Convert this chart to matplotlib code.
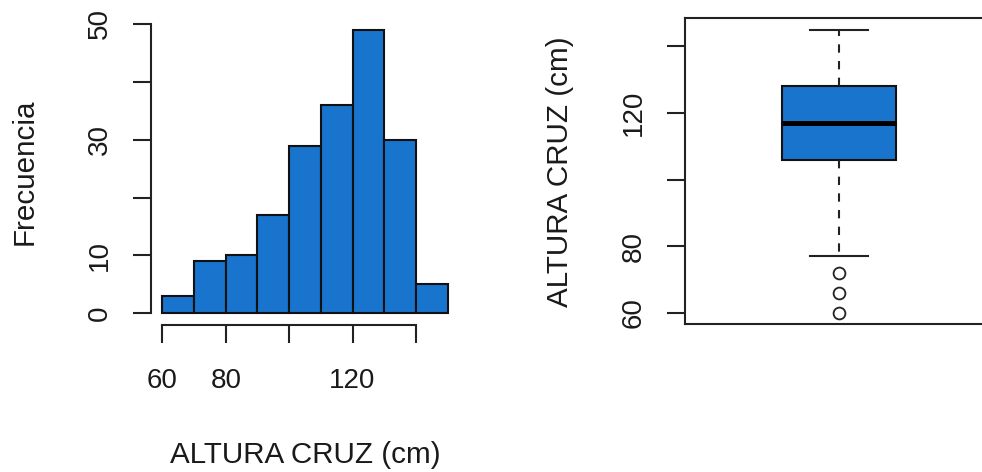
import matplotlib
matplotlib.use("Agg")
import matplotlib.pyplot as plt
import numpy as np

plt.rcParams["font.family"] = ["Liberation Sans", "DejaVu Sans"]

# Histogram of ALTURA CRUZ (cm): bin edges and counts
bin_edges = [60, 70, 80, 90, 100, 110, 120, 130, 140, 150]
counts = [3, 9, 10, 17, 29, 36, 49, 30, 5]
hist_xticks = [60, 80, 100, 120, 140]
hist_xticklabels = ["60", "80", "", "120", ""]
hist_yticks = [0, 10, 20, 30, 40, 50]
hist_yticklabels = ["0", "10", "", "30", "", "50"]

# Boxplot summary of ALTURA CRUZ (cm)
box_q1, box_med, box_q3 = 106, 117, 128
whisker_lo, whisker_hi = 77, 145
outliers = [72, 66, 60]
box_yticks = [60, 80, 100, 120, 140]
box_yticklabels = ["60", "80", "", "120", ""]

FILL = "#1874CD"
LW = 1.5
TICK_FS = 20
LABEL_FS = 21.3

W, H = 982, 472
fig = plt.figure(figsize=(W / 100, H / 100), dpi=100)


def px_axes(left, top, right, bottom):
    return fig.add_axes([left / W, 1 - bottom / H, (right - left) / W, (bottom - top) / H])


def style_ticks(ax):
    ax.tick_params(axis="both", direction="out", length=13, width=LW,
                   labelsize=TICK_FS, color="#222222", labelcolor="#1a1a1a")
    ax.tick_params(axis="x", pad=18.5)
    ax.tick_params(axis="y", pad=24)
    for lab in ax.get_yticklabels():
        lab.set_rotation(90)
        lab.set_va("center")
        lab.set_ha("center")
        lab.set_rotation_mode("default")


# ---- Histogram ----
ax1 = px_axes(151, 18.4, 459, 324.7)
edges = np.array(bin_edges, dtype=float)
ax1.bar(edges[:-1], counts, width=np.diff(edges), align="edge",
        color=FILL, edgecolor="#111111", linewidth=LW)
ymax = max(counts)
ax1.set_ylim(-0.04 * ymax, ymax * 1.04)
span = edges[-1] - edges[0]
ax1.set_xlim(edges[0] - 0.04 * span, edges[-1] + 0.04 * span)
ax1.set_xticks(hist_xticks)
ax1.set_xticklabels(hist_xticklabels)
ax1.set_yticks(hist_yticks)
ax1.set_yticklabels(hist_yticklabels)
for s in ("top", "right"):
    ax1.spines[s].set_visible(False)
ax1.spines["left"].set_bounds(hist_yticks[0], hist_yticks[-1])
ax1.spines["bottom"].set_bounds(hist_xticks[0], hist_xticks[-1])
for s in ("left", "bottom"):
    ax1.spines[s].set_linewidth(LW)
    ax1.spines[s].set_color("#222222")
style_ticks(ax1)
ax1.set_xlabel("ALTURA CRUZ (cm)", fontsize=LABEL_FS, color="#1a1a1a", va="center")
ax1.xaxis.set_label_coords(0.5, -0.425)
ax1.set_ylabel("Frecuencia", fontsize=LABEL_FS, color="#1a1a1a", va="center", ha="center")
ax1.yaxis.set_label_coords(-0.409, 0.5)

# ---- Boxplot ----
ax2 = px_axes(685, 18.3, 993, 324.3)
stats = [dict(med=box_med, q1=box_q1, q3=box_q3, whislo=whisker_lo,
              whishi=whisker_hi, fliers=outliers)]
ax2.bxp(stats, positions=[1], widths=0.4, capwidths=0.2, patch_artist=True,
        boxprops=dict(facecolor=FILL, edgecolor="#111111", linewidth=LW),
        medianprops=dict(color="black", linewidth=3.6, solid_capstyle="butt"),
        whiskerprops=dict(color="#222222", linewidth=LW, linestyle=(0, (4, 4))),
        capprops=dict(color="#222222", linewidth=LW),
        flierprops=dict(marker="o", markerfacecolor="none", markeredgecolor="#222222",
                        markersize=8.5, markeredgewidth=1.3))
lo = min(outliers + [whisker_lo])
hi = whisker_hi
r = hi - lo
ax2.set_ylim(lo - 0.04 * r, hi + 0.04 * r)
ax2.set_xlim(0.46, 1.54)
ax2.set_xticks([])
ax2.set_yticks(box_yticks)
ax2.set_yticklabels(box_yticklabels)
for s in ax2.spines.values():
    s.set_linewidth(LW)
    s.set_color("#222222")
style_ticks(ax2)
ax2.set_ylabel("ALTURA CRUZ (cm)", fontsize=LABEL_FS, color="#1a1a1a", va="center", ha="center")
ax2.yaxis.set_label_coords(-0.406, 0.5)

fig.savefig("out.png", dpi=100)
